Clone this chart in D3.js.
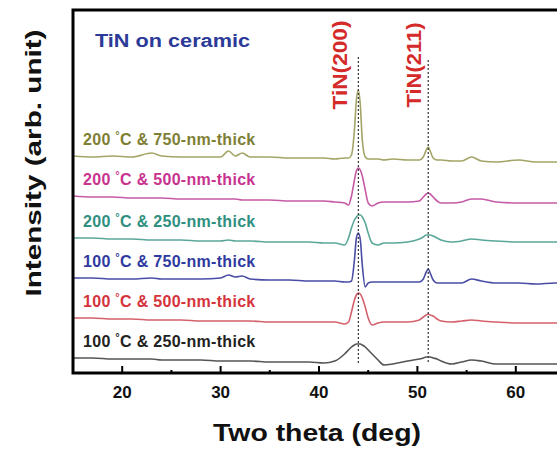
<!DOCTYPE html>
<html><head><meta charset="utf-8">
<script src="https://cdn.jsdelivr.net/npm/d3@7"></script>
<style>
body{margin:0;background:#fff}
svg{display:block;font-family:"Liberation Sans",Arial,sans-serif;font-weight:bold}
</style>
</head><body><svg id="c" width="557" height="450"></svg>
<script>
// ---- data (intensity in arb. units, traces already offset) ----
const twoTheta = [15,17,19,21,23,24,26,28,30,30.8,31.5,32.2,33,35,37,39,40.5,41.6,42.6,43.0,43.3,43.6,43.8,44.0,44.2,44.4,44.7,45.0,45.4,46.0,46.6,47.5,49,50.2,50.6,50.9,51.1,51.3,51.6,52.0,52.4,53.5,54.5,55.5,56.5,58,60.3,62,64,66];
const t200_750 = [217,216,217,216,220,217,216,216,216,222,217,220,216,216,215,215,215,214,215,215,218,243,273,283,268,233,216,214,214,214,213,214,213,213,216,223,226,222,215,213,213,212,212,216,212,211,213,211,211,211];
const t200_500 = [177,176,176,175,175,175,174,174,174,174,174,173,173,173,172,172,172,171,170,168,177,193,202,205,203,197,183,170,167,170,171,171,171,172,176,179,180,179,176,172,170,170,171,174,174,171,170,170,170,170];
const t200_250 = [135,135,134,134,133,133,133,132,132,133,132,132,132,131,131,131,130,130,128,135,145,153,156,158,158,156,150,140,130,128,130,130,131,134,136,138,138,138,137,135,133,131,132,134,133,132,131,131,131,131];
const t100_750 = [95,95,94,94,95,94,94,94,95,98,96,97,94,93,93,92,92,92,91,91,92,113,135,140,133,108,86,90,91,91,91,91,91,91,94,101,104,100,93,90,90,90,90,94,92,90,90,89,90,90];
const t100_500 = [55,55,54,54,53,53,53,52,52,52,52,52,52,51,51,51,51,51,49,51,61,73,78,80,79,75,66,55,48,50,51,51,51,53,56,58,59,58,57,54,52,51,52,53,52,51,50,50,50,50];
const t100_250 = [15,15,14,14,14,13,13,13,12,12,12,12,12,11,11,11,10,12,19,23,26,28,29,29,29,28,26,23,19,13,8,9,12,14,15,16,16,16,15,14,12,9,11,13,12,9,9,9,9,9];

const seriesTemps = ["200","200","200","100","100","100"];
const seriesThick = ["750","500","250","750","500","250"];
const seriesValues = [t200_750,t200_500,t200_250,t100_750,t100_500,t100_250];
const lineColors = ["#a3a566","#c65aa6","#5aa79a","#4a4ca6","#d4606c","#555555"];
const labelColors = ["#7e7f35","#c8338f","#2f8f80","#2f3aa0","#d5333c","#222222"];

const xTicks = [20,30,40,50,60];
const xMinorTicks = [25,35,45,55];
const peakPos = [44.0,51.1];
const peakNames = ["TiN(200)","TiN(211)"];
const title = "TiN on ceramic";

// ---- layout ----
const svg = d3.select("#c");
const L = 73, T = 10, B = 373, R = 565;
const x = d3.scaleLinear().domain([15,65]).range([L,R]);
const y = d3.scaleLinear().domain([0,363]).range([B,T]);

// traces
const line = d3.line().x(d=>x(d[0])).y(d=>y(d[1])).curve(d3.curveMonotoneX);
seriesValues.forEach((vals,i)=>{
  svg.append("path")
    .datum(twoTheta.map((t,k)=>[t,vals[k]]))
    .attr("d",line).attr("fill","none")
    .attr("stroke",lineColors[i]).attr("stroke-width",1.6);
});

// peak reference lines
peakPos.forEach((p,i)=>{
  svg.append("line").attr("x1",x(p)).attr("x2",x(p))
    .attr("y1",i===0?57:60).attr("y2",364)
    .attr("stroke","#333").attr("stroke-width",1.2)
    .attr("stroke-dasharray","2,2");
  const cy = 65, cx = i===0 ? 347 : 421;
  svg.append("text").attr("transform",`translate(${cx},${cy}) rotate(-90)`)
    .attr("text-anchor","middle").attr("fill","#d42a2a")
    .attr("font-size",20).attr("textLength",i===0?89:85)
    .attr("lengthAdjust","spacingAndGlyphs").text(peakNames[i]);
});

// series labels
seriesValues.forEach((vals,i)=>{
  const ty = y(vals[0]) - 11;
  const t = svg.append("text").attr("x",83).attr("y",ty)
    .attr("fill",labelColors[i]).attr("font-size",16).attr("letter-spacing","0.3px");
  t.append("tspan").text(seriesTemps[i]+" ");
  t.append("tspan").attr("dy",-6).attr("font-size",11).text("°");
  t.append("tspan").attr("dy",6).text("C & "+seriesThick[i]+"-nm-thick");
});

// title
svg.append("text").attr("x",95).attr("y",47).attr("fill","#2c3a98")
  .attr("font-size",18).attr("textLength",155).attr("lengthAdjust","spacingAndGlyphs")
  .text(title);

// frame
svg.append("path").attr("d",`M${R+20},${T}H${L}V${B}H${R+20}`)
  .attr("fill","none").attr("stroke","#000").attr("stroke-width",3);

// x axis ticks (inward)
const ax = svg.append("g");
xTicks.forEach(v=>{
  ax.append("line").attr("x1",x(v)).attr("x2",x(v)).attr("y1",B).attr("y2",B-7)
    .attr("stroke","#000").attr("stroke-width",2);
  ax.append("text").attr("x",x(v)).attr("y",398).attr("text-anchor","middle")
    .attr("font-size",17).attr("fill","#111").text(v);
});
xMinorTicks.forEach(v=>{
  ax.append("line").attr("x1",x(v)).attr("x2",x(v)).attr("y1",B).attr("y2",B-3)
    .attr("stroke","#000").attr("stroke-width",2);
});

// axis titles
svg.append("text").attr("x",317).attr("y",441).attr("text-anchor","middle")
  .attr("font-size",23).attr("fill","#111").attr("textLength",208)
  .attr("lengthAdjust","spacingAndGlyphs").text("Two theta (deg)");
svg.append("text").attr("transform","translate(41,163) rotate(-90)")
  .attr("text-anchor","middle").attr("font-size",22).attr("fill","#111")
  .attr("textLength",267).attr("lengthAdjust","spacingAndGlyphs")
  .text("Intensity (arb. unit)");
</script>
</body></html>
